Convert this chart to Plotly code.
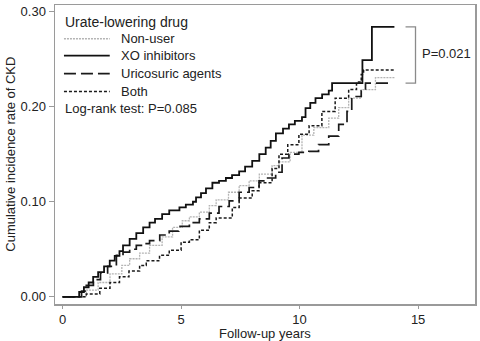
import plotly.graph_objects as go

# ---------------- data ----------------
xo_t = [0, 0.52, 0.7, 0.9, 1.1, 1.29, 1.5, 1.75, 1.99, 2.2, 2.4, 2.55, 2.83, 3.11, 3.4, 3.67, 3.9,
        4.2, 4.5, 4.93, 5.2, 5.5, 5.63, 5.84, 6.05, 6.32, 6.6, 6.89, 7.15, 7.45, 7.7, 8.0, 8.3,
        8.57, 8.78, 9.0, 9.3, 9.55, 9.8, 10.1, 10.25, 10.45, 10.67, 10.95, 11.23, 11.37, 12.65,
        13.05, 14.0]
xo_v = [0, 0, 0.005, 0.010, 0.015, 0.021, 0.026, 0.032, 0.038, 0.043, 0.048, 0.054, 0.061, 0.067,
        0.073, 0.078, 0.082, 0.087, 0.091, 0.094, 0.097, 0.100, 0.1045, 0.109, 0.114, 0.120, 0.122,
        0.125, 0.128, 0.132, 0.137, 0.143, 0.150, 0.157, 0.164, 0.172, 0.177, 0.1815, 0.185, 0.189,
        0.1985, 0.204, 0.209, 0.213, 0.217, 0.2247, 0.249, 0.284, 0.284]

uri_t = [0, 0.6, 0.8, 1.0, 1.3, 1.6, 1.9, 2.27, 2.55, 2.83, 3.11, 3.4, 3.67, 4.1, 4.5, 4.9, 5.35,
         5.77, 6.19, 6.6, 7.03, 7.45, 7.87, 8.29, 8.57, 8.99, 9.26, 9.55, 9.97, 10.39, 10.8, 11.23,
         11.65, 12.0, 12.2, 12.6, 12.78, 13.75]
uri_v = [0, 0, 0.006, 0.012, 0.018, 0.025, 0.032, 0.0436, 0.047, 0.050, 0.054, 0.056, 0.059, 0.065,
         0.069, 0.074, 0.078, 0.082, 0.088, 0.095, 0.101, 0.110, 0.115, 0.122, 0.125, 0.131, 0.146,
         0.150, 0.152, 0.153, 0.160, 0.169, 0.1815, 0.195, 0.2107, 0.2167, 0.2247, 0.2247]

non_t = [0, 0.55, 1.0, 1.5, 2.0, 2.5, 2.83, 3.25, 3.67, 4.2, 4.64, 5.05, 5.35, 5.77, 6.19, 6.48,
         7.0, 7.45, 7.87, 8.3, 8.84, 9.13, 9.6, 10.1, 10.6, 11.23, 11.65, 12.07, 12.6, 13.2, 14.0]
non_v = [0, 0, 0.007, 0.015, 0.024, 0.033, 0.040, 0.046, 0.054, 0.063, 0.073, 0.080, 0.084, 0.089,
         0.096, 0.102, 0.110, 0.117, 0.122, 0.129, 0.138, 0.142, 0.152, 0.170, 0.178, 0.188, 0.199,
         0.209, 0.218, 0.2306, 0.2306]

both_t = [0, 0.55, 1.0, 1.57, 2.0, 2.4, 2.8, 3.25, 3.53, 4.09, 4.5, 5.0, 5.35, 5.77, 6.19, 6.48,
          7.16, 7.45, 8.0, 8.29, 8.84, 9.13, 9.5, 9.97, 10.4, 10.94, 11.5, 12.07, 12.4, 12.6, 12.7, 14.0]
both_v = [0, 0, 0.003, 0.009, 0.015, 0.021, 0.027, 0.033, 0.038, 0.0436, 0.049, 0.0575, 0.060, 0.070,
          0.078, 0.083, 0.094, 0.104, 0.1115, 0.120, 0.135, 0.150, 0.160, 0.171, 0.180, 0.195, 0.209,
          0.218, 0.226, 0.234, 0.2387, 0.2387]

series_names = ["Non-user", "XO inhibitors", "Uricosuric agents", "Both"]
x_ticks = [0, 5, 10, 15]
y_ticks = [0.0, 0.1, 0.2, 0.3]
y_tick_labels = ["0.00", "0.10", "0.20", "0.30"]
legend_title = "Urate-lowering drug"
logrank_text = "Log-rank test: P=0.085"
pair_p_text = "P=0.021"

# ---------------- figure ----------------
FONT = "Liberation Sans, Arial, Helvetica, sans-serif"
W, H = 480, 341
L, R, T, B = 55, 3, 3, 37
XR = [-0.32, 17.4]
YR = [-0.0076, 0.307]

styles = {
    "Non-user": dict(color="#b4b4b4", width=1.3, dash="2px,1px"),
    "XO inhibitors": dict(color="#111111", width=1.8, dash="solid"),
    "Uricosuric agents": dict(color="#1a1a1a", width=1.7, dash="12px,5px"),
    "Both": dict(color="#1a1a1a", width=1.5, dash="3px,2px"),
}
data = {
    "Non-user": (non_t, non_v),
    "XO inhibitors": (xo_t, xo_v),
    "Uricosuric agents": (uri_t, uri_v),
    "Both": (both_t, both_v),
}

fig = go.Figure()
for name in ["Non-user", "Uricosuric agents", "Both", "XO inhibitors"]:
    t, v = data[name]
    fig.add_trace(go.Scatter(x=t, y=v, mode="lines", name=name, line=dict(shape="hv", **styles[name]),
                             showlegend=False, hoverinfo="skip"))

pw, ph = W - L - R, H - T - B
def px(xp):
    return (xp - L) / pw
def py(yp):
    return (H - B - yp) / ph

annotations = []
shapes = []
# legend title
annotations.append(dict(text=legend_title, x=px(63), y=py(20), xref="paper", yref="paper",
                        xanchor="left", yanchor="middle", showarrow=False,
                        font=dict(family=FONT, size=14, color="#222")))
item_y = [37, 54, 72, 90]
for name, yy in zip(series_names, item_y):
    st = styles[name]
    shapes.append(dict(type="line", xref="paper", yref="paper", x0=px(64), x1=px(110), y0=py(yy), y1=py(yy),
                       line=dict(color=st["color"], width=st["width"], dash=st["dash"])))
    annotations.append(dict(text=name, x=px(119), y=py(yy), xref="paper", yref="paper",
                            xanchor="left", yanchor="middle", showarrow=False,
                            font=dict(family=FONT, size=13, color="#222")))
annotations.append(dict(text=logrank_text, x=px(63), y=py(107), xref="paper", yref="paper",
                        xanchor="left", yanchor="middle", showarrow=False,
                        font=dict(family=FONT, size=13, color="#222")))

# bracket between XO inhibitors and Uricosuric agents final values
bx0, bx1 = 14.47, 14.89
y_top, y_bot = xo_v[-1], uri_v[-1]
shapes.append(dict(type="path", xref="x", yref="y",
                   path=f"M {bx0},{y_top} L {bx1},{y_top} L {bx1},{y_bot} L {bx0},{y_bot}",
                   line=dict(color="#8a8a8a", width=1.3)))
annotations.append(dict(text=pair_p_text, x=15.08, y=(y_top + y_bot) / 2 + 0.0015, xref="x", yref="y",
                        xanchor="left", yanchor="middle", showarrow=False,
                        font=dict(family=FONT, size=13, color="#222")))

# axis titles
annotations.append(dict(text="Follow-up years", x=0.5, y=py(333.5), xref="paper", yref="paper",
                        xanchor="center", yanchor="middle", showarrow=False, borderpad=0,
                        font=dict(family=FONT, size=13, color="#222")))
annotations.append(dict(text="Cumulative incidence rate of CKD", x=px(10), y=0.5, xref="paper", yref="paper",
                        xanchor="center", yanchor="middle", textangle=-90, showarrow=False,
                        font=dict(family=FONT, size=13, color="#222")))

axis_common = dict(showgrid=False, zeroline=False, showline=True, linecolor="#9a9a9a", linewidth=1.5,
                   mirror=True, ticks="outside", ticklen=3, tickwidth=1, tickcolor="#9a9a9a",
                   tickfont=dict(family=FONT, size=13, color="#222"))

fig.update_layout(
    width=W, height=H,
    margin=dict(l=L, r=R, t=T, b=B, pad=0),
    paper_bgcolor="white", plot_bgcolor="white",
    xaxis=dict(range=XR, tickvals=x_ticks, ticktext=[str(v) for v in x_ticks], **axis_common),
    yaxis=dict(range=YR, tickvals=y_ticks, ticktext=y_tick_labels, ticklen=5, **{k: v for k, v in axis_common.items() if k != "ticklen"}),
    shapes=shapes, annotations=annotations,
    showlegend=False,
)

fig.write_html("out.html", config={"displayModeBar": False, "staticPlot": True},
               post_script="document.body.style.margin='0';document.body.style.padding='0';")
